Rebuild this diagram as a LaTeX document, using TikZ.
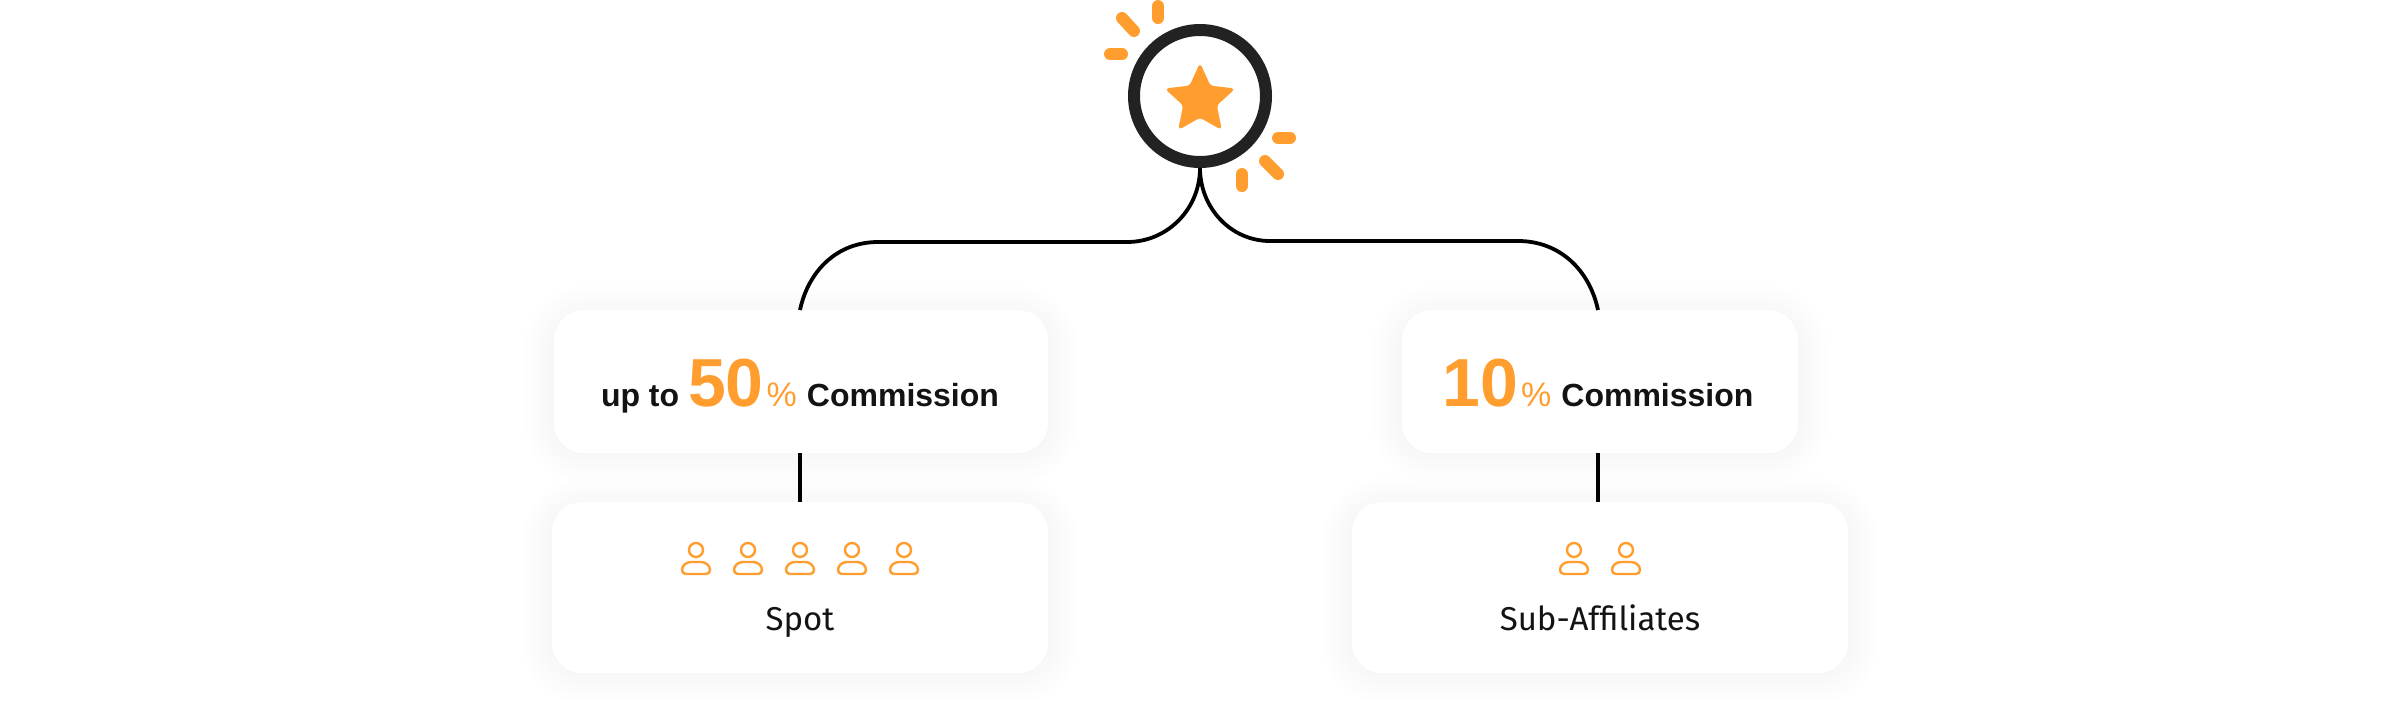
\documentclass[tikz,border=0pt]{standalone}
\usepackage{fontspec}
\setmainfont{Liberation Sans}
\newfontfamily\labelfont{Fira Sans}
\usetikzlibrary{shapes.geometric, backgrounds}

% Define colors
\definecolor{accent}{HTML}{FF9E2E}
\definecolor{ringgray}{HTML}{222222}
\definecolor{inkgray}{HTML}{131313}

\newcommand{\bigpct}[1]{{\color{accent}\fontsize{34}{36}\selectfont #1}}
\newcommand{\smallpct}{\hspace{1.5pt}{\color{accent}\mdseries\fontsize{17}{18}\selectfont\%}\hspace{5pt}}
\newcommand{\softshadow}[1]{%
    \foreach \r in {2,6,...,30} {
        \fill[black, opacity=0.003, rounded corners=15pt+0.5*\r]
            ([shift={(-\r,\r)}]#1.south west) rectangle ([shift={(\r,-\r+6)}]#1.north east);
    }
}

\tikzset{
    card/.style={fill=white, rounded corners=15pt, inner sep=0pt, outer sep=0pt},
    headline/.style={anchor=base, inner sep=0pt, text=inkgray, font=\bfseries\fontsize{16}{18}\selectfont},
    caption/.style={anchor=base, inner sep=0pt, text=inkgray, font=\labelfont\fontsize{16.5}{18}\selectfont},
    link/.style={black, line width=1.9pt},
    ray/.style={accent, line width=6pt, line cap=round},
    person/.pic={
        \draw[accent, line width=1.2pt] (0,0) circle (3.5pt);
        \draw[accent, line width=1.2pt]
            (-10,24) -- (10,24) to[out=0, in=-90] (14,20) to[out=90, in=0] (5,12) -- (-5,12)
            to[out=180, in=90] (-14,20) to[out=-90, in=180] cycle;
    }
}

\begin{document}
\begin{tikzpicture}[x=0.5pt, y=-0.5pt]

\useasboundingbox (0,0) rectangle (2400,714);

% Cards
\node[card, minimum width=247pt, minimum height=71.5pt] (upto) at (801,381.5) {};
\node[card, minimum width=248pt, minimum height=85.5pt] (spot) at (800,587.5) {};
\node[card, minimum width=198pt, minimum height=71.5pt] (ten) at (1600,381.5) {};
\node[card, minimum width=248pt, minimum height=85.5pt] (sub) at (1600,587.5) {};

\begin{pgfonlayer}{background}
    \softshadow{upto}
    \softshadow{spot}
    \softshadow{ten}
    \softshadow{sub}
\end{pgfonlayer}

% Top badge
\node[circle, draw=ringgray, line width=6pt, fill=white, minimum size=66pt, inner sep=0pt] (badge) at (1200,96) {};
\node[star, star points=5, star point ratio=2.1, fill=accent, draw=accent, line width=0.5pt, rounded corners=1.6pt,
    minimum size=36pt, inner sep=0pt] (badgestar) at (1200,100) {};

\foreach \xa/\ya/\xb/\yb in {1122/18/1134/31, 1158/6/1158/18, 1110/54/1122/54, 1278/138/1290/138, 1265/161/1278/174, 1242/174/1242/186} {
    \draw[ray] (\xa,\ya) -- (\xb,\yb);
}

% Connectors
\coordinate (leftstart) at (1127,242);
\coordinate (leftend) at (878,242);
\coordinate (rightstart) at (1270,241);
\coordinate (rightend) at (1518,241);
\coordinate (tenin) at (1598,310);
\coordinate (tenout) at (1598,453);
\coordinate (subin) at (1598,502);

\draw[link] (badge.south) to[out=-90, in=0] (leftstart) -- (leftend) to[out=180, in=78] (spot.north |- upto.north);
\draw[link] (badge.south) to[out=-90, in=180] (rightstart) -- (rightend) to[out=0, in=102] (tenin);
\draw[link] (spot.north |- upto.south) -- (spot.north);
\draw[link] (tenout) -- (subin);

% Texts
\node[headline] (uptotext) at (800,406) {up to \bigpct{50}\smallpct Commission};
\node[headline] (tentext) at (1598,406) {\bigpct{10}\smallpct Commission};
\node[caption] (spottext) at (800,630) {Spot};
\node[caption] (subtext) at (1600,630) {Sub-Affiliates};

% Person icons
\foreach \i in {696,748,800,852,904} {
    \pic at (\i,550) {person};
}
\foreach \i in {1574,1626} {
    \pic at (\i,550) {person};
}

\end{tikzpicture}
\end{document}
